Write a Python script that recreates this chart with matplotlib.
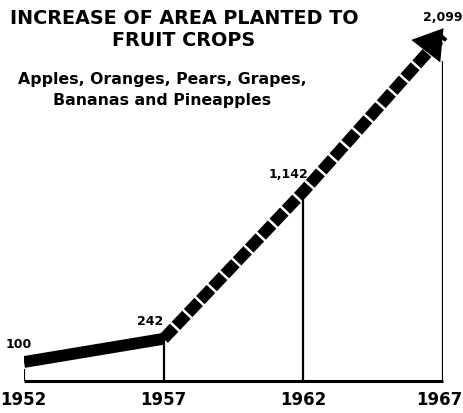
import matplotlib
matplotlib.use("Agg")
import matplotlib.pyplot as plt
import matplotlib.transforms as mtrans

years = [1952, 1957, 1962, 1967]
values = [100, 242, 1142, 2099]
value_labels = ["100", "242", "1,142", "2,099"]
year_labels = ["1952", "1957", "1962", "1967"]
title = "INCREASE OF AREA PLANTED TO\nFRUIT CROPS"
subtitle = "Apples, Oranges, Pears, Grapes,\nBananas and Pineapples"

plt.rcParams['lines.scale_dashes'] = False
plt.rcParams['font.family'] = ['DejaVu Sans']

W, H = 464, 413
fig = plt.figure(figsize=(W / 100, H / 100), dpi=100)
ax = fig.add_axes([24 / W, (H - 381) / H, 419 / W, 381 / H])
ax.set_xlim(years[0], years[-1])
ax.set_ylim(-16, 2313)
for s in ['top', 'right', 'left']:
    ax.spines[s].set_visible(False)
ax.spines['bottom'].set_linewidth(2.2)
ax.spines['bottom'].set_capstyle('butt')
ax.set_yticks([])
ax.set_xticks(years)
ax.set_xticklabels(year_labels, fontsize=12, fontweight='bold')
ax.tick_params(axis='x', length=0, pad=7)
lbls = ax.get_xticklabels()
lbls[-1].set_horizontalalignment('right')
lbls[-1].set_transform(lbls[-1].get_transform() + mtrans.ScaledTranslation(19 / 100, 0, fig.dpi_scale_trans))
lbls[0].set_transform(lbls[0].get_transform() + mtrans.ScaledTranslation(-1 / 100, 0, fig.dpi_scale_trans))

# vertical guides
ax.vlines(years[1:3], -16, values[1:3], color='black', lw=1.6, zorder=1)
ax.vlines(years[3], -16, values[3] - 160, color='black', lw=1.6, zorder=1)
ax.vlines(years[0], -16, values[0] - 40, color='black', lw=1.6, zorder=1)

# solid segment
ax.plot(years[:2], values[:2], color='black', lw=8.5, solid_capstyle='butt',
        solid_joinstyle='miter', zorder=3)
# dashed segment with arrow
ax.plot(years[1:], values[1:], color='black', lw=8.5, dashes=(11, 1.8),
        dash_capstyle='butt', zorder=3, clip_on=False)
ax.annotate('', xy=(years[3] + 0.08, values[3] + 55),
            xytext=(years[3] - 0.6, values[3] - 95),
            arrowprops=dict(arrowstyle='-|>,head_length=0.95,head_width=0.6',
                            color='black', lw=0, mutation_scale=22),
            zorder=4, annotation_clip=False)

# value labels
offsets = [(-0.2, 110), (-0.5, 105), (-0.55, 105), (0.0, 110)]
for x, v, lab, (dx, dy) in zip(years, values, value_labels, offsets):
    ax.text(x + dx, v + dy, lab, fontsize=9, fontweight='bold', ha='center',
            va='center', clip_on=False)

fig.text(184 / W, 1 - 29 / H, title, fontsize=13.8, fontweight='bold',
         ha='center', va='center', linespacing=1.2)
fig.text(162 / W, 1 - 90 / H, subtitle, fontsize=11.3, fontweight='bold',
         ha='center', va='center', linespacing=1.55)

fig.savefig("out.png", dpi=100, facecolor='white')
